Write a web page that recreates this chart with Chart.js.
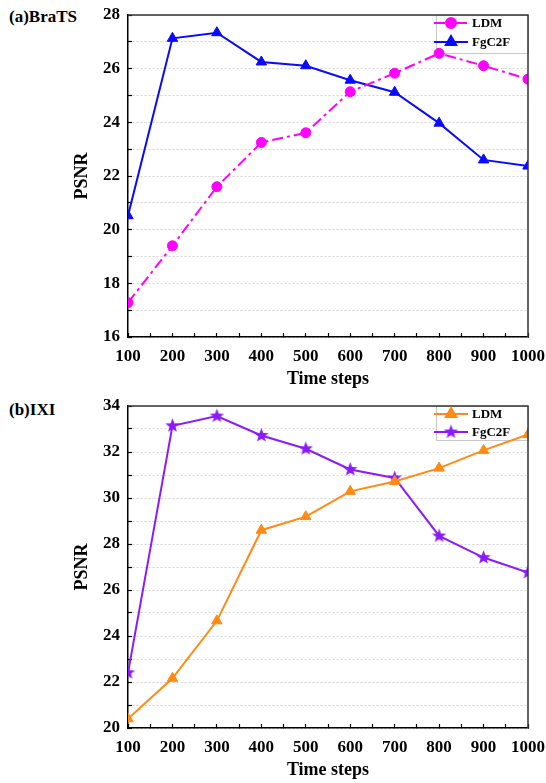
<!DOCTYPE html>
<html>
<head>
<meta charset="utf-8">
<script src="https://cdn.jsdelivr.net/npm/chart.js@4.4.1/dist/chart.umd.min.js"></script>
<style>
  body { margin: 0; background: #fff; width: 546px; height: 783px; overflow: hidden; position: relative; }
  .panel { position: absolute; left: 0; }
  .tag { position: absolute; left: 9px; font: bold 17px "Liberation Serif", serif; line-height: 20px; color: #000; }
  .legend { position: absolute; left: 432px; width: 95px; }
  .row { position: absolute; left: 0; height: 14px; width: 95px; font: bold 13px "Liberation Serif", serif; line-height: 14px; color: #000; }
  .row canvas { position: absolute; left: 2px; top: -1px; }
  .row span { position: absolute; left: 40px; top: 0; }
</style>
</head>
<body>
<div class="tag" style="top:7px">(a)BraTS</div>
<canvas id="brats" class="panel" style="top:0" width="546" height="392"></canvas>
<div class="legend" style="top:16px">
  <div class="row" style="top:0px"><canvas id="lgA1" width="34" height="16"></canvas><span>LDM</span></div>
  <div class="row" style="top:19px"><canvas id="lgA2" width="34" height="16"></canvas><span>FgC2F</span></div>
</div>

<div class="tag" style="top:400px">(b)IXI</div>
<canvas id="ixi" class="panel" style="top:392px" width="546" height="391"></canvas>
<div class="legend" style="top:407px">
  <div class="row" style="top:0px"><canvas id="lgB1" width="34" height="16"></canvas><span>LDM</span></div>
  <div class="row" style="top:18px"><canvas id="lgB2" width="34" height="16"></canvas><span>FgC2F</span></div>
</div>

<script>
const timeSteps = [100, 200, 300, 400, 500, 600, 700, 800, 900, 1000];

// (a) BraTS
const bratsLdm = [17.28, 19.40, 21.60, 23.25, 23.61, 25.14, 25.83, 26.57, 26.11, 25.61];
const bratsFgc2f = [20.52, 27.13, 27.34, 26.25, 26.11, 25.57, 25.12, 23.97, 22.60, 22.37];
const bratsRange = [16, 28];

// (b) IXI
const ixiLdm = [20.40, 22.16, 24.66, 28.60, 29.19, 30.29, 30.72, 31.30, 32.07, 32.76];
const ixiFgc2f = [22.40, 33.14, 33.56, 32.72, 32.14, 31.24, 30.87, 28.35, 27.41, 26.76];
const ixiRange = [20, 34];

const serif = '"Liberation Serif", "Times New Roman", serif';
const magenta = '#ff00ff';
const blue = '#0a0aff';
const orange = '#ff8a14';
const purple = '#8c1aff';

function starImage(color, r) {
    const c = document.createElement('canvas');
    const s = Math.ceil(r * 2 + 2);
    c.width = s;
    c.height = s;
    const g = c.getContext('2d');
    g.beginPath();
    for (let i = 0; i < 10; i++) {
        const a = -Math.PI / 2 + i * Math.PI / 5;
        const rr = i % 2 ? r * 0.42 : r;
        g.lineTo(s / 2 + rr * Math.cos(a), s / 2 + rr * Math.sin(a));
    }
    g.closePath();
    g.fillStyle = color;
    g.fill();
    return c;
}

const purpleStar = starImage(purple, 7.5);

function pts(values) {
    return values.map((v, i) => ({ x: timeSteps[i], y: v }));
}

function series(label, values, color, style, radius, dash) {
    return {
        label: label,
        data: pts(values),
        borderColor: color,
        backgroundColor: color,
        borderWidth: 2,
        borderDash: dash || [],
        pointStyle: style,
        pointRadius: radius,
        pointHoverRadius: radius,
        pointBackgroundColor: color,
        pointBorderColor: color,
        pointBorderWidth: 1,
        tension: 0
    };
}

// box frame on top and right side of the plot
const frame = {
    id: 'frame',
    afterDraw(chart) {
        const { ctx, chartArea: a } = chart;
        ctx.save();
        ctx.strokeStyle = '#333';
        ctx.lineWidth = 1.5;
        ctx.beginPath();
        ctx.moveTo(a.left, a.top);
        ctx.lineTo(a.right, a.top);
        ctx.lineTo(a.right, a.bottom);
        ctx.stroke();
        ctx.restore();
    }
};

// white legend panel in the top right corner, under the lines but over the grid
const legendPanel = {
    id: 'legendPanel',
    beforeDatasetsDraw(chart, args, opts) {
        const { ctx, chartArea: a } = chart;
        const x = a.right - opts.width;
        ctx.save();
        ctx.fillStyle = '#fff';
        ctx.fillRect(x, a.top, opts.width, opts.height);
        ctx.strokeStyle = '#c8c8c8';
        ctx.lineWidth = 1;
        ctx.strokeRect(x + 0.5, a.top + 0.5, opts.width, opts.height);
        ctx.restore();
    }
};

function makeChart(id, datasets, range, padTop, boxHeight) {
    return new Chart(document.getElementById(id), {
        type: 'line',
        data: { datasets: datasets },
        plugins: [legendPanel, frame],
        options: {
            responsive: false,
            animation: false,
            events: [],
            layout: { padding: { left: 68, right: 18, top: padTop, bottom: 0 } },
            plugins: {
                legend: { display: false },
                tooltip: { enabled: false },
                legendPanel: { width: 92, height: boxHeight }
            },
            scales: {
                x: {
                    type: 'linear',
                    min: 100,
                    max: 1000,
                    ticks: {
                        stepSize: 50,
                        autoSkip: false,
                        maxRotation: 0,
                        padding: 13,
                        color: '#000',
                        font: { family: serif, size: 17, weight: 'bold' },
                        callback: v => (v % 100 === 0 ? v : '')
                    },
                    grid: { drawOnChartArea: false, tickLength: -4, tickColor: '#000', tickWidth: 1.2 },
                    border: { color: '#000', width: 1.5 },
                    title: {
                        display: true,
                        text: 'Time steps',
                        color: '#000',
                        font: { family: serif, size: 18, weight: 'bold' },
                        padding: { top: 0, bottom: 2 }
                    },
                    afterFit: s => {
                        s.height = 55;
                        s.paddingLeft = 0;
                        s.paddingRight = 0;
                    }
                },
                y: {
                    min: range[0],
                    max: range[1],
                    ticks: {
                        stepSize: 1,
                        autoSkip: false,
                        padding: 12,
                        color: '#000',
                        font: { family: serif, size: 17, weight: 'bold' },
                        callback: v => (v % 2 === 0 ? v : '')
                    },
                    grid: { color: '#d2d2d2', lineWidth: 1, tickLength: -4, tickColor: '#000', tickWidth: 1.2, tickBorderDash: [] },
                    border: { color: '#000', width: 1.5, dash: [2, 2] },
                    title: {
                        display: true,
                        text: 'PSNR',
                        color: '#000',
                        font: { family: serif, size: 18, weight: 'bold' },
                        padding: { top: 4, bottom: 0 }
                    },
                    afterFit: s => {
                        s.width = 60;
                        s.paddingTop = 0;
                        s.paddingBottom = 0;
                    }
                }
            }
        }
    });
}

makeChart('brats', [
    series('LDM', bratsLdm, magenta, 'circle', 5, [11, 4, 3, 4]),
    series('FgC2F', bratsFgc2f, blue, 'triangle', 6)
], bratsRange, 15, 38);

makeChart('ixi', [
    series('LDM', ixiLdm, orange, 'triangle', 6),
    series('FgC2F', ixiFgc2f, purple, purpleStar, 7)
], ixiRange, 14, 34);

// legend samples: a short line with the marker on it
function sample(id, color, style, radius, dash) {
    const c = document.getElementById(id);
    const g = c.getContext('2d');
    g.strokeStyle = color;
    g.lineWidth = 2;
    g.setLineDash(dash || []);
    g.beginPath();
    g.moveTo(0, 8);
    g.lineTo(34, 8);
    g.stroke();
    g.setLineDash([]);
    g.fillStyle = color;
    if (style instanceof HTMLCanvasElement) {
        g.drawImage(style, 17 - style.width / 2, 8 - style.height / 2);
    } else {
        Chart.helpers.drawPoint(g, { pointStyle: style, radius: radius, rotation: 0, borderWidth: 1 }, 17, 8);
    }
}

sample('lgA1', magenta, 'circle', 5, [11, 4, 3, 4]);
sample('lgA2', blue, 'triangle', 6);
sample('lgB1', orange, 'triangle', 6);
sample('lgB2', purple, purpleStar, 7);
</script>
</body>
</html>
